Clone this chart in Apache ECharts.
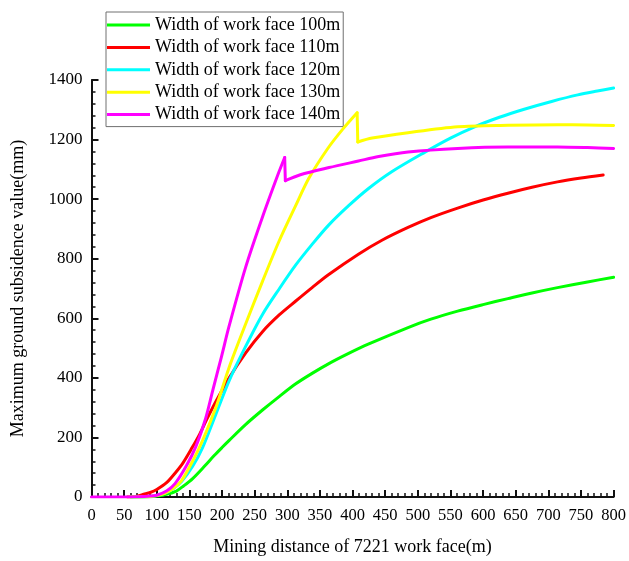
<!DOCTYPE html>
<html>
<head>
<meta charset="utf-8">
<script src="https://cdn.jsdelivr.net/npm/echarts@6/dist/echarts.min.js"></script>
<style>
  html, body { margin: 0; padding: 0; background: #fff; }
  #chart { width: 629px; height: 561px; }
</style>
</head>
<body>
<div id="chart"></div>
<script>
// Maximum ground subsidence vs. mining distance, one curve per work-face width
const seriesNames = [
  'Width of work face 100m',
  'Width of work face 110m',
  'Width of work face 120m',
  'Width of work face 130m',
  'Width of work face 140m'
];
const seriesColors = ['#00ff00', '#ff0000', '#00ffff', '#ffff00', '#ff00ff'];

// 100 m
const dist100 = [60, 90, 100, 115, 130, 141, 155, 173, 188, 200, 211, 236, 262, 288, 313, 338, 363, 394, 424, 485, 520, 561, 600, 638, 675, 714, 760, 800];
const subs100 = [0, 1, 3, 9, 20, 37, 62, 103, 139, 166, 190, 243, 292, 338, 380, 415, 447, 482, 513, 569, 597, 624, 646, 666, 685, 703, 722, 738];

// 110 m
const dist110 = [55, 70, 80, 90, 100, 115, 128, 140, 154, 166, 176, 190, 211, 236, 262, 288, 313, 338, 363, 409, 445, 485, 520, 561, 600, 638, 675, 714, 750, 784];
const subs110 = [0, 3, 9, 15, 25, 48, 80, 114, 165, 212, 258, 318, 400, 483, 555, 612, 658, 703, 746, 815, 862, 905, 938, 970, 997, 1020, 1040, 1058, 1071, 1081];

// 120 m
const dist120 = [60, 90, 100, 112, 125, 138, 155, 170, 190, 211, 236, 262, 288, 313, 338, 363, 394, 424, 460, 511, 550, 587, 625, 663, 705, 745, 775, 800];
const subs120 = [0, 2, 5, 12, 28, 52, 103, 165, 275, 391, 505, 613, 700, 779, 848, 912, 978, 1035, 1092, 1158, 1205, 1243, 1275, 1302, 1328, 1350, 1363, 1373];

// 130 m (sudden drop near 407 m)
const dist130 = [60, 90, 100, 112, 125, 138, 150, 164, 176, 192, 211, 236, 262, 287, 313, 333, 362, 385, 407, 408, 430, 485, 561, 638, 714, 760, 800];
const subs130 = [0, 2, 5, 12, 28, 55, 100, 160, 220, 310, 436, 580, 724, 857, 979, 1070, 1170, 1235, 1290, 1192, 1205, 1223, 1243, 1248, 1250, 1249, 1247];

// 140 m (sudden drop near 296 m)
const dist140 = [0, 60, 90, 100, 115, 128, 145, 160, 175, 186, 199, 211, 236, 262, 287, 296, 297, 320, 364, 409, 440, 485, 561, 638, 714, 760, 800];
const subs140 = [0, 0, 3, 6, 20, 45, 103, 170, 265, 360, 470, 575, 770, 940, 1090, 1140, 1062, 1082, 1106, 1128, 1143, 1158, 1170, 1175, 1175, 1173, 1170];

const xTicks = { min: 0, max: 800, interval: 50 };
const yTicks = { min: 0, max: 1400, interval: 200 };

const pairs = (xs, ys) => xs.map((x, i) => [x, ys[i]]);
const curves = [
  pairs(dist100, subs100),
  pairs(dist110, subs110),
  pairs(dist120, subs120),
  pairs(dist130, subs130),
  pairs(dist140, subs140)
];

// Split a curve at its sudden drop so the smooth parts stay smooth
// and the drop itself stays a straight, sharp edge.
function splitAtDrop(pts) {
  for (let i = 0; i < pts.length - 1; i++) {
    if (pts[i + 1][1] < pts[i][1] - 20) {
      return [
        { data: pts.slice(0, i + 1), smooth: 0.3 },
        { data: pts.slice(i, i + 2), smooth: false },
        { data: pts.slice(i + 1), smooth: 0.3 }
      ];
    }
  }
  return [{ data: pts, smooth: 0.3 }];
}

const FONT = '"Liberation Serif", "Times New Roman", serif';
const AXIS_COLOR = '#111';

const series = [];
curves.forEach((pts, i) => {
  splitAtDrop(pts).forEach(seg => {
    series.push({
      name: seriesNames[i],
      type: 'line',
      data: seg.data,
      showSymbol: false,
      symbol: 'none',
      smooth: seg.smooth,
      color: seriesColors[i],
      lineStyle: { color: seriesColors[i], width: 3, cap: 'round', join: 'round' },
      emphasis: { disabled: true },
      z: 2 + i
    });
  });
});

const chart = echarts.init(document.getElementById('chart'), null, { renderer: 'canvas' });

chart.setOption({
  animation: false,
  backgroundColor: '#ffffff',
  textStyle: { fontFamily: FONT },
  grid: { left: 91.5, right: 13, top: 80, bottom: 60, containLabel: false },
  legend: {
    left: 106,
    top: 12,
    orient: 'vertical',
    data: seriesNames,
    icon: 'rect',
    itemWidth: 43,
    itemHeight: 3,
    itemGap: 4.4,
    padding: [4, 3, 3, 1],
    borderColor: '#707070',
    borderWidth: 1,
    backgroundColor: '#fff',
    textStyle: { fontFamily: FONT, fontSize: 18, color: '#000', lineHeight: 18 }
  },
  xAxis: {
    type: 'value',
    min: xTicks.min,
    max: xTicks.max,
    interval: xTicks.interval,
    name: 'Mining distance of 7221 work face(m)',
    nameLocation: 'middle',
    nameGap: 41,
    nameTextStyle: { fontFamily: FONT, fontSize: 18, color: '#000' },
    axisLine: { show: true, onZero: false, lineStyle: { color: AXIS_COLOR, width: 2 } },
    axisTick: { show: true, inside: true, length: 7, lineStyle: { color: AXIS_COLOR, width: 2 } },
    minorTick: { show: true, splitNumber: 5, length: 4, lineStyle: { color: AXIS_COLOR, width: 1.5 } },
    axisLabel: { fontFamily: FONT, fontSize: 16.5, color: '#000', margin: 10, formatter: v => String(v) },
    splitLine: { show: false },
    minorSplitLine: { show: false }
  },
  yAxis: {
    type: 'value',
    min: yTicks.min,
    max: yTicks.max,
    interval: yTicks.interval,
    name: 'Maximum ground subsidence value(mm)',
    nameLocation: 'middle',
    nameGap: 64,
    nameTextStyle: { fontFamily: FONT, fontSize: 18, color: '#000' },
    axisLine: { show: true, onZero: false, lineStyle: { color: AXIS_COLOR, width: 2 } },
    axisTick: { show: true, inside: true, length: 7, lineStyle: { color: AXIS_COLOR, width: 2 } },
    minorTick: { show: true, splitNumber: 5, length: 4, lineStyle: { color: AXIS_COLOR, width: 1.5 } },
    axisLabel: { fontFamily: FONT, fontSize: 17, color: '#000', margin: 9, formatter: v => String(v) },
    splitLine: { show: false },
    minorSplitLine: { show: false }
  },
  series: series
});
</script>
</body>
</html>
